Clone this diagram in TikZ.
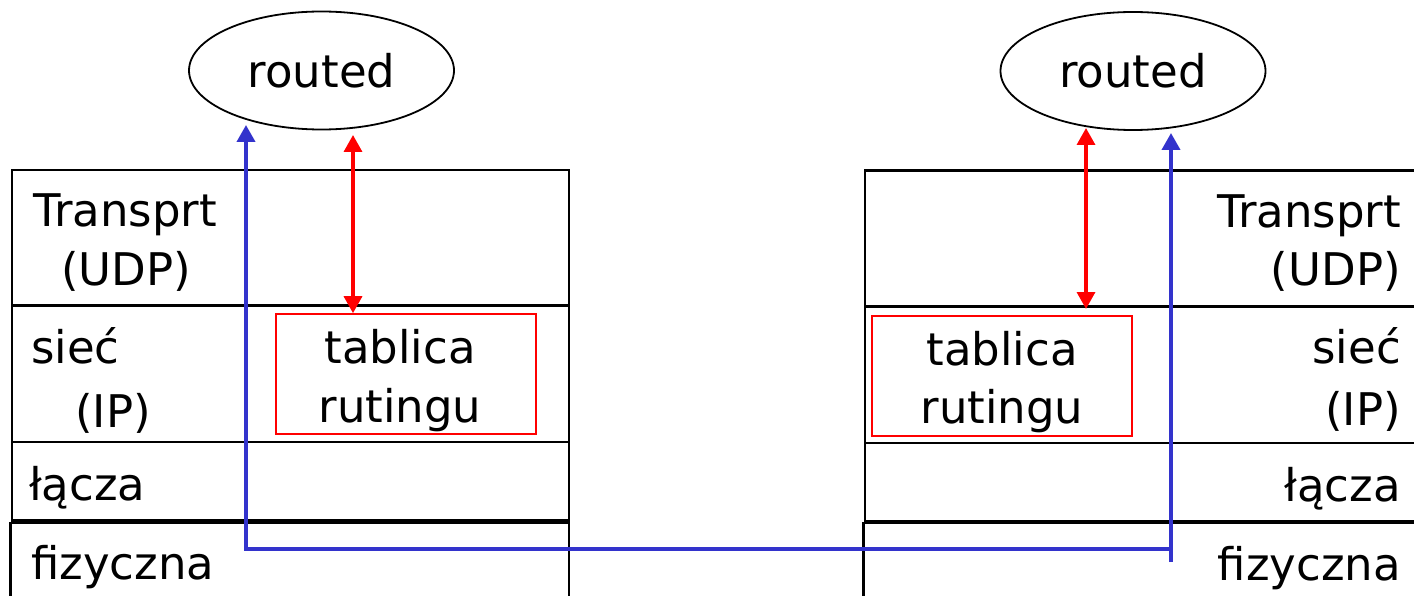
\documentclass[tikz,border=0pt]{standalone}
\usepackage{fontspec}
\setmainfont{DejaVu Sans}
\usetikzlibrary{arrows.meta,shapes.geometric}
\definecolor{lineblue}{RGB}{51,51,204}
\definecolor{linered}{RGB}{255,0,0}
\begin{document}
\begin{tikzpicture}[x=1pt,y=-1pt,
  lay/.style={draw=black,line width=2.3pt},
  lbl/.style={inner sep=0pt,font=\fontsize{45}{54}\selectfont},
  proc/.style={draw=black,line width=1.8pt,ellipse,minimum width=265pt,minimum height=118pt,inner sep=0pt,font=\fontsize{45}{54}\selectfont},
  tabbox/.style={draw=linered,line width=1.6pt,minimum width=260pt,minimum height=120pt,inner sep=0pt},
  redarr/.style={draw=linered,line width=3.4pt,{Triangle[width=18pt 0,length=17pt 0]}-{Triangle[width=18pt 0,length=17pt 0]}},
  bluearr/.style={draw=lineblue,line width=3.8pt,line join=miter}]
\useasboundingbox (0,0) rectangle (1414,596);
\clip (0,0) rectangle (1414,596);
% left stack
\draw[lay] (12,170) rectangle (569,305.5);
\draw[lay] (12,305.5) rectangle (569,442);
\draw[lay] (12,442) rectangle (569,520.5);
\draw[lay] (10.5,523) rectangle (569,640);
% right stack
\draw[lay] (865,170.5) rectangle (1440,306.5);
\draw[lay] (865,306.5) rectangle (1440,443);
\draw[lay] (865,443) rectangle (1440,521);
\draw[lay] (863.5,523) rectangle (1440,640);
% routed processes
\node[proc] (routedL) at (321.5,70.5) {routed};
\node[proc] (routedR) at (1133,71) {routed};
% routing tables
\node[tabbox] (tabL) at (406,374) {};
\node[tabbox] (tabR) at (1002,376) {};
\node[lbl,anchor=base] (tabL1) at (400,363) {tablica};
\node[lbl,anchor=base] (tabL2) at (400,422) {rutingu};
\node[lbl,anchor=base] (tabR1) at (1002,365) {tablica};
\node[lbl,anchor=base] (tabR2) at (1002,423) {rutingu};
% left labels
\node[lbl,anchor=base west] (trL) at (33,227) {Transprt};
\node[lbl,anchor=base west] (udpL) at (61,285) {(UDP)};
\node[lbl,anchor=base west] (siecL) at (31,363) {sieć};
\node[lbl,anchor=base west] (ipL) at (75,427) {(IP)};
\node[lbl,anchor=base west] (laczaL) at (29,500) {łącza};
\node[lbl,anchor=base west] (fizL) at (31,579) {fizyczna};
% right labels
\node[lbl,anchor=base east] (trR) at (1401,228) {Transprt};
\node[lbl,anchor=base east] (udpR) at (1401,286) {(UDP)};
\node[lbl,anchor=base east] (siecR) at (1401,363) {sieć};
\node[lbl,anchor=base east] (ipR) at (1401,425) {(IP)};
\node[lbl,anchor=base east] (laczaR) at (1401,501) {łącza};
\node[lbl,anchor=base east] (fizR) at (1401,580) {fizyczna};
% red arrows
\coordinate (redLtop) at (353,135);
\draw[redarr] (redLtop) -- (redLtop |- tabL.north);
\coordinate (redRtop) at (1086,128);
\coordinate (redRbot) at (1086,309);
\draw[redarr] (redRtop) -- (redRbot);
% blue path
\coordinate (blueLtip) at (246,125);
\coordinate (blueRtip) at (1171,133);
\coordinate (blueRfoot) at (1171,562);
\coordinate (blueLfoot) at (246,549);
\draw[bluearr,{Triangle[width=18pt 0,length=17pt 0]}-] (blueLtip) |- (blueRtip |- blueLfoot);
\draw[bluearr,-{Triangle[width=18pt 0,length=17pt 0]}] (blueRfoot) -- (blueRtip);
\end{tikzpicture}
\end{document}
